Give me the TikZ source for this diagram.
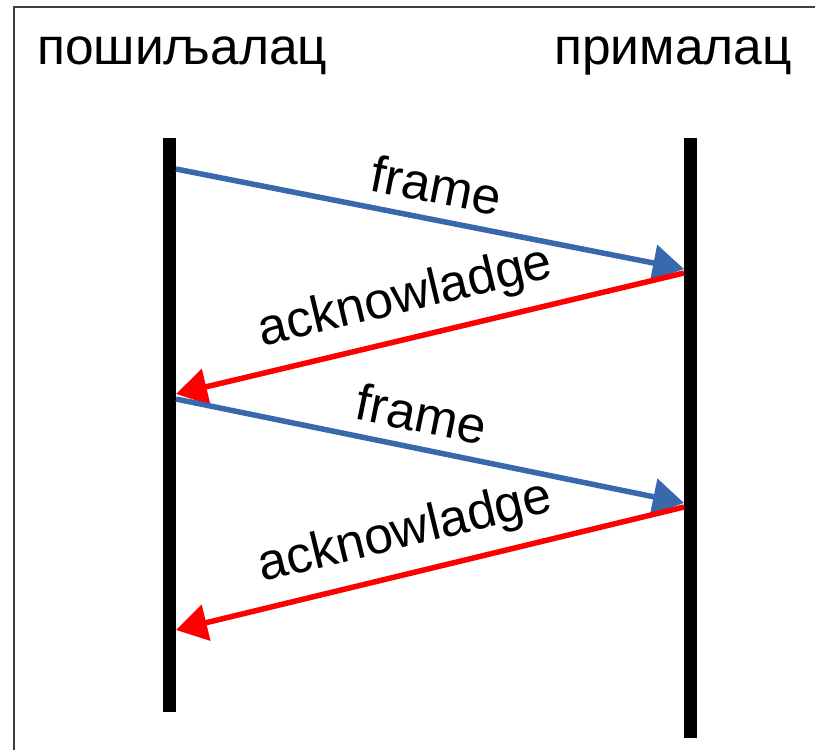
\documentclass[tikz,border=0pt]{standalone}
\usepackage{fontspec}
\setmainfont{Liberation Sans}
\usetikzlibrary{arrows.meta}
\definecolor{msgblue}{HTML}{3A68AC}
\definecolor{msgred}{HTML}{FF0000}
\definecolor{framegray}{HTML}{404040}
\begin{document}
\begin{tikzpicture}[x=1pt,y=-1pt,
  lifeline/.style={line width=13pt,black},
  msg/.style={line width=5.5pt,-{Triangle[length=31pt,width=36pt]}},
  framemsg/.style={msg,msgblue},
  ackmsg/.style={msg,msgred},
  title/.style={font=\fontsize{51.5}{60}\selectfont,inner sep=0pt},
  lbl/.style={font=\fontsize{51.5}{60}\selectfont,text=black,sloped,inner sep=0pt}]
  \useasboundingbox (0,0) rectangle (815,750);
  \fill[white] (0,0) rectangle (815,750);
  % outer frame (top and left edges)
  \draw[framegray,line width=1.5pt] (14,750) -- (14,7) -- (815,7);

  % participants
  \node[title,anchor=base west] (snd) at (37,64) {пошиљалац};
  \node[title,anchor=base east] (rcv) at (792,64) {прималац};

  % lifelines
  \coordinate (sTop) at (169.5,138);
  \coordinate (sBot) at (169.5,712);
  \coordinate (rTop) at (690,138);
  \coordinate (rBot) at (690,738);
  \draw[lifeline] (sTop) -- (sBot);
  \draw[lifeline] (rTop) -- (rBot);

  % message end points on the lifelines
  \coordinate (f1s) at (176,169);
  \coordinate (f1e) at (684,269);
  \coordinate (a1s) at (684,273);
  \coordinate (a1e) at (176,394);
  \coordinate (f2s) at (176,399);
  \coordinate (f2e) at (684,503);
  \coordinate (a2s) at (684,507);
  \coordinate (a2e) at (176,630);

  % messages
  \draw[framemsg] (f1s) -- node[lbl,pos=0.50,above=13pt] (lf1) {frame} (f1e);
  \draw[ackmsg] (a1s) -- node[lbl,pos=0.53,above=13pt] (la1) {acknowladge} (a1e);
  \draw[framemsg] (f2s) -- node[lbl,pos=0.47,above=13pt] (lf2) {frame} (f2e);
  \draw[ackmsg] (a2s) -- node[lbl,pos=0.53,above=13pt] (la2) {acknowladge} (a2e);
\end{tikzpicture}
\end{document}
